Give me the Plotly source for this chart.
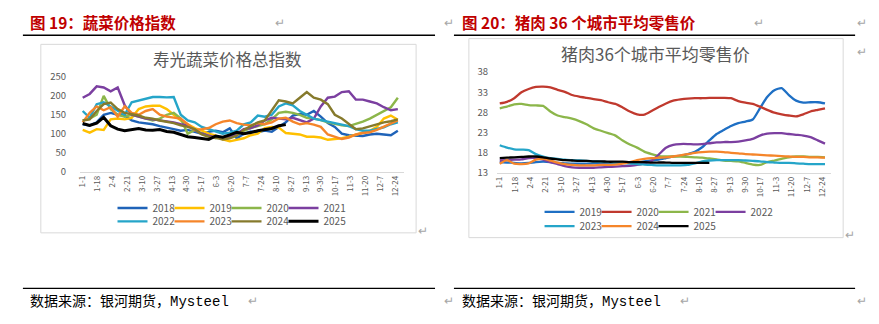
import plotly.graph_objects as go

W, H = 879, 324

# ---------------- data ----------------
day = list(range(0, 361, 8))  # sample day-of-year index (every 8 days)
tick_text = ["1-1", "1-18", "2-4", "2-21", "3-10", "3-27", "4-13", "4-30", "5-17", "6-3", "6-20",
             "7-7", "7-24", "8-10", "8-27", "9-13", "9-30", "10-17", "11-3", "11-20", "12-7", "12-24"]
tick_step = 17

veg_2018 = [125, 122, 130, 150, 155, 150, 148, 135, 130, 128, 125, 120, 115, 112, 108, 110, 105, 100, 105, 108,
            104, 114, 88, 100, 106, 104, 108, 105, 118, 130, 148, 152, 150, 160, 145, 128, 118, 100, 96, 95,
            94, 98, 100, 98, 96, 108]
veg_2019 = [110, 103, 112, 110, 138, 140, 138, 142, 165, 172, 174, 174, 165, 150, 135, 125, 115, 108, 100, 95,
            85, 80, 85, 88, 96, 100, 115, 118, 116, 102, 100, 98, 92, 92, 90, 84, 86, 88, 92, 98,
            102, 108, 118, 140, 148, 137]
veg_2020 = [135, 140, 150, 200, 165, 150, 145, 150, 145, 140, 135, 140, 150, 155, 140, 100, 110, 100, 95, 88,
            90, 92, 100, 108, 115, 120, 125, 138, 155, 158, 155, 150, 142, 140, 136, 130, 125, 122, 120, 125,
            132, 140, 150, 160, 170, 195]
veg_2021 = [195, 205, 225, 222, 212, 222, 175, 150, 145, 140, 138, 135, 132, 130, 125, 122, 110, 100, 95, 90,
            88, 92, 100, 112, 115, 122, 135, 142, 140, 138, 142, 135, 130, 140, 172, 195, 198, 210, 212, 190,
            190, 185, 180, 170, 162, 165]
veg_2022 = [160, 142, 178, 183, 172, 160, 150, 183, 187, 192, 197, 197, 196, 197, 150, 135, 130, 118, 112, 105,
            100, 103, 108, 125, 130, 148, 145, 150, 172, 180, 175, 160, 150, 140, 136, 132, 128, 124, 120, 112,
            108, 108, 112, 117, 125, 130]
veg_2023 = [130, 155, 172, 162, 170, 145, 172, 155, 150, 160, 165, 150, 145, 142, 140, 125, 110, 112, 115, 125,
            132, 135, 128, 124, 122, 128, 125, 130, 140, 142, 132, 125, 128, 124, 118, 98, 92, 86, 90, 98,
            102, 104, 110, 118, 128, 135]
veg_2024 = [135, 138, 160, 178, 182, 165, 155, 152, 148, 142, 140, 135, 132, 128, 122, 118, 112, 98, 92, 90,
            85, 88, 95, 110, 120, 130, 135, 160, 188, 185, 180, 195, 210, 195, 190, 178, 150, 140, 125, 112,
            114, 120, 126, 130, 133, 138]
veg_2025 = [127, 122, 128, 143, 121, 112, 108, 111, 114, 110, 109, 111, 106, 104, 97, 92, 90, 87, 85, 94,
            91, 97, 104, 100, 103, 108, 110, 114, 121, 124]

pork_2019 = [15.6, 15.5, 15.4, 15.3, 15.4, 15.6, 15.7, 15.6, 15.4, 15.3, 15.2, 15.2, 15.2, 15.3, 15.3, 15.3,
             15.4, 15.4, 15.5, 15.6, 15.8, 16.0, 16.2, 16.6, 17.0, 17.2, 17.6, 18.2, 19.3, 21.0, 22.6, 23.6,
             24.6, 25.3, 25.7, 26.2, 29.0, 31.8, 33.5, 34.0, 32.3, 30.9, 30.4, 30.5, 30.5, 30.2]
pork_2020 = [30.2, 30.6, 31.5, 33.0, 33.8, 34.3, 34.4, 34.2, 33.6, 33.1, 32.3, 31.9, 31.6, 31.3, 31.0, 30.5,
             30.1, 29.2, 28.2, 27.5, 27.4, 28.3, 29.3, 30.2, 30.9, 31.2, 31.4, 31.5, 31.5, 31.6, 31.6, 31.6,
             31.5, 30.8, 30.4, 30.1, 29.4, 28.6, 27.9, 27.5, 27.2, 27.0, 27.5, 28.2, 28.6, 29.0]
pork_2021 = [29.0, 29.4, 30.0, 30.1, 29.8, 29.7, 29.6, 28.2, 27.2, 26.8, 26.4, 25.8, 25.0, 24.0, 23.4, 22.8,
             22.2, 21.0, 20.0, 19.2, 18.2, 17.6, 17.1, 17.0, 17.0, 17.0, 16.9, 16.8, 16.7, 16.5, 16.3, 16.0,
             15.9, 15.8, 15.4, 15.0, 14.9, 15.6, 16.0, 16.4, 16.8, 17.0, 17.0, 16.9, 16.9, 16.8]
pork_2022 = [16.0, 16.1, 16.2, 16.3, 16.6, 16.6, 16.2, 15.6, 15.1, 14.6, 14.3, 14.2, 14.2, 14.2, 14.3, 14.4,
             14.5, 14.6, 14.7, 14.9, 15.3, 15.9, 17.5, 19.2, 19.9, 20.1, 20.1, 20.0, 20.1, 20.3, 20.5, 20.6,
             20.6, 20.7, 21.0, 21.4, 22.2, 22.7, 22.8, 22.8, 22.6, 22.4, 22.2, 21.8, 21.0, 20.2]
pork_2023 = [19.8, 19.2, 18.8, 18.7, 18.6, 17.6, 17.0, 16.6, 16.4, 16.2, 16.1, 16.0, 15.9, 15.8, 15.7, 15.6,
             15.5, 15.4, 15.3, 15.1, 15.0, 14.9, 14.8, 14.8, 14.8, 14.8, 14.9, 15.3, 15.8, 16.0, 16.1, 16.1,
             16.1, 16.1, 16.0, 15.9, 15.8, 15.6, 15.5, 15.4, 15.4, 15.3, 15.2, 15.1, 15.1, 15.1]
pork_2024 = [15.2, 16.1, 15.2, 15.1, 15.3, 16.2, 16.4, 16.0, 15.5, 15.1, 14.9, 14.8, 14.8, 14.8, 14.9, 14.9,
             15.0, 15.2, 15.6, 16.1, 16.4, 16.6, 16.7, 16.8, 17.0, 17.3, 17.6, 17.9, 18.1, 18.2, 18.2, 18.1,
             17.9, 17.8, 17.6, 17.5, 17.4, 17.3, 17.2, 17.1, 17.0, 16.9, 16.9, 16.8, 16.8, 16.7]
pork_2025 = [16.6, 16.7, 16.8, 16.9, 17.0, 17.0, 16.8, 16.5, 16.3, 16.1, 16.0, 15.9, 15.9, 15.8, 15.8, 15.7,
             15.7, 15.7, 15.6, 15.6, 15.6, 15.5, 15.5, 15.5, 15.4, 15.4, 15.4, 15.4, 15.4, 15.4]

veg_ticks = [0, 50, 100, 150, 200, 250]
pork_ticks = [13, 18, 23, 28, 33, 38]

# ---------------- styles ----------------
C = {"blue": "#1F63B8", "yellow": "#FFC000", "green": "#8CB64A", "purple": "#7B3FA0",
     "teal": "#25A5C9", "orange": "#F5852A", "olive": "#867A2C", "black": "#000000",
     "red": "#C0392E", "pblue": "#1E6FC4"}
CJK = "Noto Sans CJK SC, Noto Sans, sans-serif"
GRAY = "#595959"


def px(x):
    return x / W


def py(y):
    return 1 - y / H


fig = go.Figure()

veg = [("2018", veg_2018, C["blue"], "legend"), ("2019", veg_2019, C["yellow"], "legend"),
       ("2020", veg_2020, C["green"], "legend"), ("2021", veg_2021, C["purple"], "legend"),
       ("2022", veg_2022, C["teal"], "legend2"), ("2023", veg_2023, C["orange"], "legend2"),
       ("2024", veg_2024, C["olive"], "legend2"), ("2025", veg_2025, C["black"], "legend2")]
for name, vals, col, lg in veg:
    fig.add_trace(go.Scatter(x=day[:len(vals)], y=vals, mode="lines", name=name,
                             line=dict(color=col, width=3 if name == "2025" else 2.4),
                             xaxis="x", yaxis="y", legend=lg, hoverinfo="skip"))

pork = [("2019", pork_2019, C["pblue"], "legend3"), ("2020", pork_2020, C["red"], "legend3"),
        ("2021", pork_2021, C["green"], "legend3"), ("2022", pork_2022, C["purple"], "legend3"),
        ("2023", pork_2023, C["teal"], "legend4"), ("2024", pork_2024, C["orange"], "legend4"),
        ("2025", pork_2025, C["black"], "legend4")]
for name, vals, col, lg in pork:
    fig.add_trace(go.Scatter(x=day[:len(vals)], y=vals, mode="lines", name=name,
                             line=dict(color=col, width=2.3, shape="spline", smoothing=0.6),
                             xaxis="x2", yaxis="y2", legend=lg, hoverinfo="skip"))

# empty spacer entries so the last legend label in each row is not clipped
for lg, xa, ya in [("legend", "x", "y"), ("legend2", "x", "y"), ("legend3", "x2", "y2"), ("legend4", "x2", "y2")]:
    fig.add_trace(go.Scatter(x=[None], y=[None], mode="lines", name=" ", showlegend=True,
                             line=dict(color="rgba(0,0,0,0)", width=0), xaxis=xa, yaxis=ya,
                             legend=lg, hoverinfo="skip"))

tickvals = [i * tick_step for i in range(len(tick_text))]
xcommon = dict(range=[-3, 367], tickvals=tickvals, ticktext=tick_text, tickangle=-90,
               tickfont=dict(size=8, color=GRAY, family=CJK), showgrid=False, zeroline=False,
               showline=True, linecolor="#D9D9D9", linewidth=1, ticks="", fixedrange=True)
ycommon = dict(showgrid=False, zeroline=False, showline=False, ticks="",
               tickfont=dict(size=9.5, color=GRAY, family=CJK), fixedrange=True)

legcommon = dict(orientation="h", xanchor="left", yanchor="middle", bgcolor="rgba(0,0,0,0)",
                 font=dict(size=10, color=GRAY, family=CJK), entrywidth=12, entrywidthmode="pixels",
                 itemclick=False, itemdoubleclick=False, tracegroupgap=0)

fig.update_layout(
    width=W, height=H, margin=dict(l=0, r=0, t=0, b=0), autosize=False,
    paper_bgcolor="white", plot_bgcolor="rgba(0,0,0,0)", font=dict(family=CJK),
    xaxis=dict(domain=[px(76.4), px(401.8)], anchor="y", **xcommon),
    yaxis=dict(domain=[py(171), py(72)], range=[0, 250], tickvals=veg_ticks, anchor="x",
               ticklabelstandoff=13, **ycommon),
    xaxis2=dict(domain=[px(495.3), px(831.1)], anchor="y2", **xcommon),
    yaxis2=dict(domain=[py(172), py(67)], range=[13, 38], tickvals=pork_ticks, anchor="x2",
                ticklabelstandoff=8, **ycommon),
    legend=dict(x=px(109), y=py(209), **legcommon),
    legend2=dict(x=px(109), y=py(223), **legcommon),
    legend3=dict(x=px(538), y=py(213), **legcommon),
    legend4=dict(x=px(538), y=py(228), **legcommon),
    showlegend=True,
)

# frames, rules
shapes = [
    dict(type="rect", x0=px(37), x1=px(414), y0=py(235), y1=py(38), line=dict(color="#D9D9D9", width=1),
         fillcolor="rgba(0,0,0,0)", layer="below"),
    dict(type="rect", x0=px(467), x1=px(843), y0=py(240), y1=py(32), line=dict(color="#D9D9D9", width=1),
         fillcolor="rgba(0,0,0,0)", layer="below"),
    dict(type="line", x0=px(19), x1=px(433), y0=py(28.5), y1=py(28.5), line=dict(color="black", width=1.3)),
    dict(type="line", x0=px(452), x1=px(855), y0=py(28.5), y1=py(28.5), line=dict(color="black", width=1.3)),
    dict(type="line", x0=px(19), x1=px(433), y0=py(293), y1=py(293), line=dict(color="black", width=1.3)),
    dict(type="line", x0=px(452), x1=px(855), y0=py(293), y1=py(293), line=dict(color="black", width=1.3)),
]
for s in shapes:
    s.setdefault("xref", "paper")
    s.setdefault("yref", "paper")
fig.update_layout(shapes=shapes)


def ann(text, x, y, size, color, xanchor="left", bold=False):
    fig.add_annotation(text=("<b>%s</b>" % text) if bold else text, x=px(x), y=py(y), xref="paper",
                       yref="paper", xanchor=xanchor, yanchor="middle", showarrow=False,
                       font=dict(size=size, color=color, family=CJK))


ann("图 19：蔬菜价格指数", 24, 15, 15.5, "#C00000", bold=True)
ann("图 20：猪肉 36 个城市平均零售价", 458, 15, 15.5, "#C00000", bold=True)
ann("寿光蔬菜价格总指数", 225, 53, 16.5, GRAY, xanchor="center")
ann("猪肉36个城市平均零售价", 654, 48, 17, GRAY, xanchor="center")
foot = '数据来源：银河期货，<span style="font-family:Liberation Mono, DejaVu Sans Mono, monospace">Mysteel</span>'
ann(foot, 24, 305, 14, "black")
ann(foot, 458, 305, 14, "black")

MARK = "#A6A6A6"
for (x, y) in [(277, 14), (447, 14), (758, 14), (862, 14), (862, 44), (421, 232), (850, 236),
               (250, 305), (447, 305), (684, 305), (862, 305)]:
    ann("↵", x, y, 12, MARK, xanchor="center")

fig.write_html("out.html")
